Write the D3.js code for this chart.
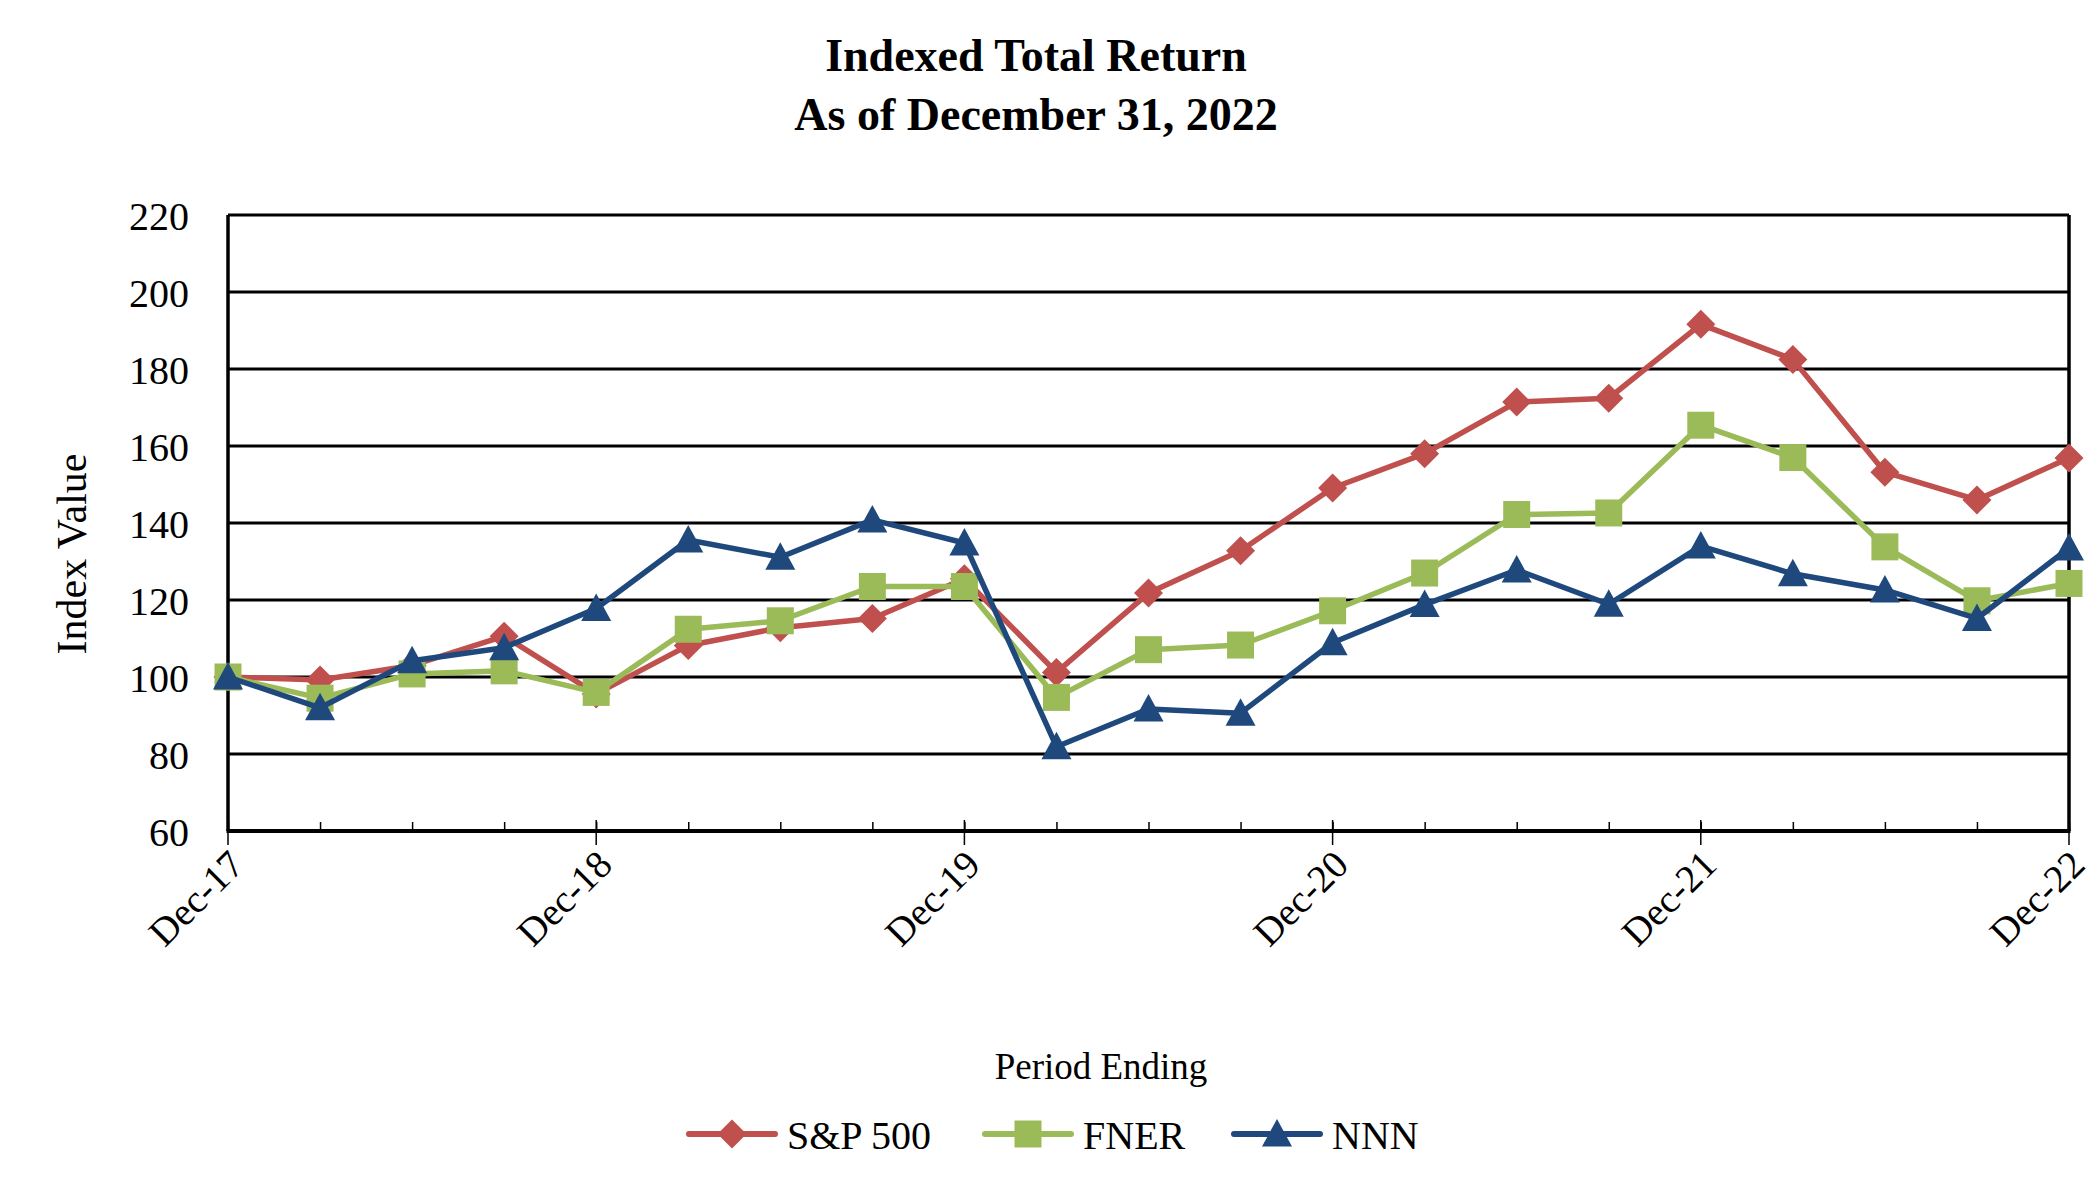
<!DOCTYPE html>
<html>
<head>
<meta charset="utf-8">
<script src="https://cdn.jsdelivr.net/npm/d3@7"></script>
<style>
  html, body { margin: 0; padding: 0; background: #ffffff; }
  svg { display: block; }
  text { font-family: "Liberation Serif", "Times New Roman", serif; fill: #000; }
</style>
</head>
<body>
<svg id="chart" width="2100" height="1200"></svg>
<script>
// ---- data ----
const quarters = ["Dec-17","Mar-18","Jun-18","Sep-18","Dec-18","Mar-19","Jun-19","Sep-19","Dec-19",
  "Mar-20","Jun-20","Sep-20","Dec-20","Mar-21","Jun-21","Sep-21","Dec-21","Mar-22","Jun-22","Sep-22","Dec-22"];
const yearLabels = ["Dec-17","Dec-18","Dec-19","Dec-20","Dec-21","Dec-22"];
const yTicks = [60, 80, 100, 120, 140, 160, 180, 200, 220];
const seriesNames = ["S&P 500", "FNER", "NNN"];
const sp500 = [100, 99.2, 103.0, 110.6, 95.6, 108.2, 112.8, 115.2, 125.5, 101.2, 121.8, 132.8, 149.1,
  158.0, 171.4, 172.4, 191.6, 182.5, 153.2, 146.0, 156.9];
const fner = [100, 94.5, 100.8, 101.6, 96.0, 112.4, 114.6, 123.5, 123.5, 94.7, 107.1, 108.3, 117.2,
  127.0, 142.2, 142.6, 165.4, 157.0, 133.8, 119.8, 124.3];
const nnn = [100, 92.0, 104.2, 107.6, 117.8, 135.6, 131.1, 140.8, 134.8, 81.9, 91.7, 90.6, 108.9,
  118.8, 127.8, 118.9, 134.0, 126.8, 122.6, 115.2, 133.5];

// ---- layout ----
const L = 228, R = 2069, T = 215, B = 831;
const colors = ["#C0504D", "#9BBB59", "#1F497D"];

const svg = d3.select("#chart");
const x = d3.scalePoint().domain(quarters).range([L, R]).padding(0);
const y = d3.scaleLinear().domain([60, 220]).range([B, T]);

// custom marker shapes
const diamond = { draw(ctx) { ctx.moveTo(0,-14.5); ctx.lineTo(14.5,0); ctx.lineTo(0,14.5); ctx.lineTo(-14.5,0); ctx.closePath(); } };
const square = { draw(ctx) { ctx.rect(-13.5,-13.5,27,27); } };
const triangle = { draw(ctx) { ctx.moveTo(0,-15); ctx.lineTo(15,12.5); ctx.lineTo(-15,12.5); ctx.closePath(); } };
const shapes = [diamond, square, triangle];

// ---- titles ----
svg.append("text").attr("x", 1036).attr("y", 71).attr("text-anchor", "middle")
  .style("font-size", "46px").style("font-weight", "bold").text("Indexed Total Return");
svg.append("text").attr("x", 1036).attr("y", 130).attr("text-anchor", "middle")
  .style("font-size", "46px").style("font-weight", "bold").text("As of December 31, 2022");

// ---- gridlines ----
svg.append("g").selectAll("line").data(yTicks).join("line")
  .attr("x1", L).attr("x2", R).attr("y1", d => y(d)).attr("y2", d => y(d))
  .attr("stroke", "#000").attr("stroke-width", 3);

// ---- y axis labels ----
const yAxis = d3.axisLeft(y).tickValues(yTicks).tickSize(0).tickPadding(39).tickFormat(d3.format("d"));
const gy = svg.append("g").attr("transform", `translate(${L},0)`).call(yAxis);
gy.select(".domain").remove();
gy.selectAll("text").style("font-size", "40px").style("font-family", "'Liberation Serif', serif")
  .attr("dy", "0.36em");

// ---- x axis: minor ticks (inside) ----
const xMinor = d3.axisTop(x).tickValues(quarters).tickSize(9).tickFormat("");
const gxm = svg.append("g").attr("transform", `translate(0,${B})`).call(xMinor);
gxm.select(".domain").remove();
gxm.selectAll("line").attr("stroke", "#000").attr("stroke-width", 1.5);

// major ticks crossing the axis
svg.append("g").selectAll("line").data(yearLabels).join("line")
  .attr("x1", d => x(d)).attr("x2", d => x(d)).attr("y1", B - 11).attr("y2", B + 14)
  .attr("stroke", "#000").attr("stroke-width", 1.5);

// frame: left, right, bottom
svg.append("line").attr("x1", L).attr("x2", L).attr("y1", T).attr("y2", B).attr("stroke", "#000").attr("stroke-width", 3.5);
svg.append("line").attr("x1", R).attr("x2", R).attr("y1", T).attr("y2", B).attr("stroke", "#000").attr("stroke-width", 3.5);
svg.append("line").attr("x1", L - 1.5).attr("x2", R + 1.5).attr("y1", B).attr("y2", B).attr("stroke", "#000").attr("stroke-width", 4);

// x tick labels, rotated
svg.append("g").selectAll("text").data(yearLabels).join("text")
  .attr("transform", d => `translate(${x(d) + 18},${B + 36}) rotate(-45)`)
  .attr("text-anchor", "end").style("font-size", "39px").text(d => d);

// ---- axis titles ----
svg.append("text").attr("transform", "translate(86,554) rotate(-90)").attr("text-anchor", "middle")
  .style("font-size", "42px").text("Index Value");
svg.append("text").attr("x", 1101).attr("y", 1079).attr("text-anchor", "middle")
  .style("font-size", "37px").text("Period Ending");

// ---- series ----
const allSeries = [sp500, fner, nnn];
const line = d3.line().x((d, i) => x(quarters[i])).y(d => y(d));
allSeries.forEach((vals, si) => {
  const g = svg.append("g");
  g.append("path").datum(vals).attr("d", line).attr("fill", "none")
    .attr("stroke", colors[si]).attr("stroke-width", 5.5).attr("stroke-linejoin", "round");
  g.selectAll("path.m").data(vals).join("path").attr("class", "m")
    .attr("transform", (d, i) => `translate(${x(quarters[i])},${y(d)})`)
    .attr("d", d3.symbol().type(shapes[si])())
    .attr("fill", colors[si]);
});

// ---- legend ----
const legendX = [689, 985, 1234];
const lg = svg.append("g");
seriesNames.forEach((name, i) => {
  const gx = legendX[i];
  lg.append("line").attr("x1", gx).attr("x2", gx + 86).attr("y1", 1134).attr("y2", 1134)
    .attr("stroke", colors[i]).attr("stroke-width", 6).attr("stroke-linecap", "round");
  lg.append("path").attr("transform", `translate(${gx + 43},1134)`)
    .attr("d", d3.symbol().type(shapes[i])()).attr("fill", colors[i]);
  lg.append("text").attr("x", gx + 98).attr("y", 1149).style("font-size", "40px").text(name);
});
</script>
</body>
</html>
